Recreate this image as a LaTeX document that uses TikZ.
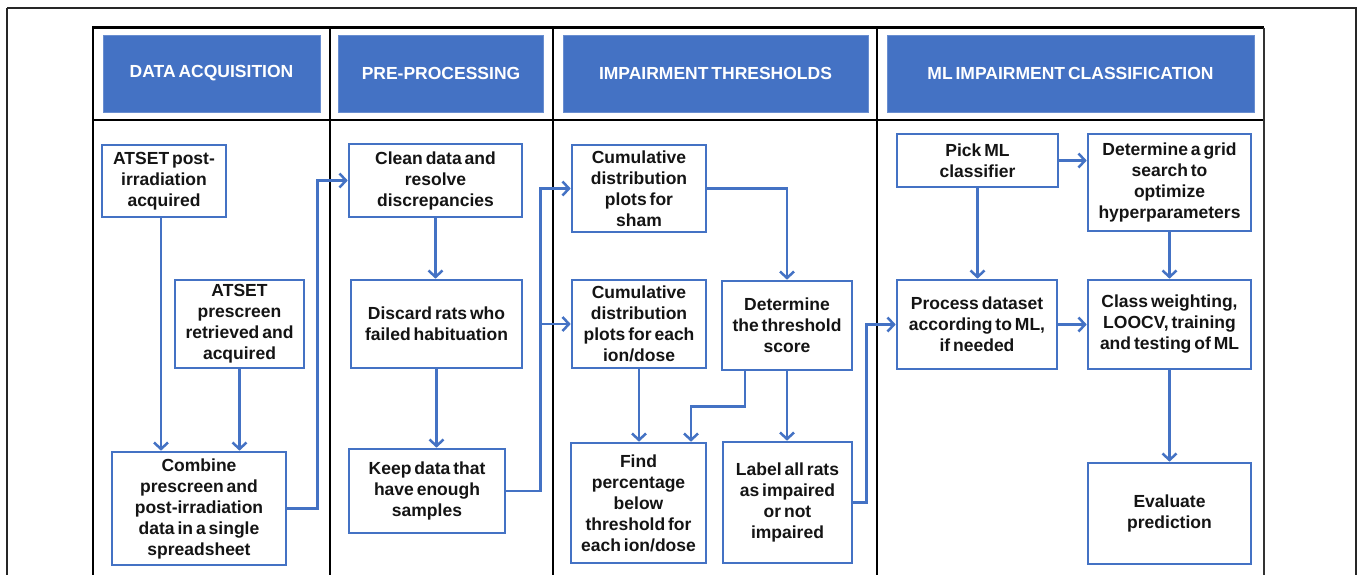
\documentclass[tikz,border=0pt]{standalone}
\usepackage{fontspec}
\setmainfont{Liberation Sans}[WordSpace=0.6]
\usetikzlibrary{arrows.meta,calc}
\definecolor{hblue}{HTML}{4472C4}
\definecolor{txt}{HTML}{141414}
\begin{document}
\begin{tikzpicture}[x=1pt,y=-1pt,
  box/.style={draw=hblue, line width=2.6pt, fill=white, inner sep=0pt, align=center,
    text=txt, font=\bfseries\fontsize{17.5}{21}\selectfont},
  hdr/.style={fill=hblue, draw=hblue!80!white, line width=0.8pt, inner sep=0pt,
    text=white, font=\bfseries\fontsize{17.5}{20}\selectfont},
  arr/.style={draw=hblue, line width=2.5pt, -{Straight Barb[length=6.5pt,width=14pt]}},
  tline/.style={draw=black, line width=2.6pt},
  frame/.style={draw=black!85, line width=1.3pt}]
\useasboundingbox (0,0) rectangle (1358,574);
\clip (0,0) rectangle (1358,574);
\fill[white] (0,0) rectangle (1358,574);
% outer frame
\draw[frame] (7,8) -- (1356,8) -- (1356,590) (7,8) -- (7,590);
% table
\draw[tline] (92,27.5) -- (1264,27.5);
\draw[tline] (92,120) -- (1264,120);
\draw[tline] (93,27.5) -- (93,590);
\draw[tline] (330,27.5) -- (330,590);
\draw[tline] (553,27.5) -- (553,590);
\draw[tline] (877,27.5) -- (877,590);
\draw[draw=black!80, line width=1.2pt] (1264,27.5) -- (1264,590);
% headers
\node[hdr, minimum width=217pt, minimum height=77pt] (h1) at (211.5,73.5) {DATA ACQUISITION};
\node[hdr, minimum width=205pt, minimum height=77pt] (h2) at (441,73.5) {PRE-PROCESSING};
\node[hdr, minimum width=305pt, minimum height=77pt] (h3) at (715.5,73.5) {IMPAIRMENT THRESHOLDS};
\node[hdr, minimum width=367pt, minimum height=77pt] (h4) at (1070.5,73.5) {ML IMPAIRMENT CLASSIFICATION};
% column 1
\node[box, minimum width=124pt, minimum height=72pt] (a1) at (164,181) {ATSET post-\\irradiation\\acquired};
\node[box, minimum width=129pt, minimum height=88pt] (a2) at (239.5,324) {ATSET\\prescreen\\retrieved and\\acquired};
\node[box, minimum width=174pt, minimum height=113pt] (a3) at (199,508.5) {Combine\\prescreen and\\post-irradiation\\data in a single\\spreadsheet};
% column 2
\node[box, minimum width=173pt, minimum height=73pt] (b1) at (435.5,180.5) {Clean data and\\resolve\\discrepancies};
\node[box, minimum width=171pt, minimum height=88pt] (b2) at (436.5,324) {Discard rats who\\failed habituation};
\node[box, minimum width=156pt, minimum height=84pt] (b3) at (427,491) {Keep data that\\have enough\\samples};
% column 3
\node[box, minimum width=134pt, minimum height=87pt] (c1) at (639,188.5) {Cumulative\\distribution\\plots for\\sham};
\node[box, minimum width=134pt, minimum height=88pt] (c2) at (639,324) {Cumulative\\distribution\\plots for each\\ion/dose};
\node[box, minimum width=130pt, minimum height=89pt] (c3) at (787,325.5) {Determine\\the threshold\\score};
\node[box, minimum width=135pt, minimum height=120pt] (c4) at (638.5,503) {Find\\percentage\\below\\threshold for\\each ion/dose};
\node[box, minimum width=129pt, minimum height=121pt] (c5) at (787.5,502.5) {Label all rats\\as impaired\\or not\\impaired};
% column 4
\node[box, minimum width=161pt, minimum height=53pt] (d1) at (977.5,160.5) {Pick ML\\classifier};
\node[box, minimum width=163pt, minimum height=97pt] (d2) at (1169.5,182.5) {Determine a grid\\search to\\optimize\\hyperparameters};
\node[box, minimum width=160pt, minimum height=89pt] (d3) at (977,324.5) {Process dataset\\according to ML,\\if needed};
\node[box, minimum width=163pt, minimum height=89pt] (d4) at (1169.5,324.5) {Class weighting,\\LOOCV, training\\and testing of ML};
\node[box, minimum width=163pt, minimum height=101pt] (d5) at (1169.5,513.5) {Evaluate\\prediction};
% connectors
\draw[arr] ($(a1.south)+(-3,0)$) -- ($(a1.south|-a3.north)+(-3,0)$);
\draw[arr] (a2.south) -- (a2.south|-a3.north);
\draw[arr] (a3.east) -- ++(30,0) |- (b1.west);
\draw[arr] (b1.south) -- (b1.south|-b2.north);
\draw[arr] (b2.south) -- (b2.south|-b3.north);
\coordinate (j1) at ($(b3.east)+(34,0)$);
\draw[arr] (b3.east) -- (j1) |- (c1.west);
\draw[arr] (j1) |- (c2.west);
\draw[arr] (c1.east) -| (c3.north);
\draw[arr] (c2.south) -- (c2.south|-c4.north);
\draw[arr] ($(c3.south)+(-42,0)$) -- ++(0,35) -| ($(c4.north)+(52.5,0)$);
\draw[arr] (c3.south) -- (c3.south|-c5.north);
\draw[arr] (c5.east) -- ++(13,0) |- (d3.west);
\draw[arr] (d1.east) -- (d1.east-|d2.west);
\draw[arr] (d1.south) -- (d1.south|-d3.north);
\draw[arr] (d2.south) -- (d2.south|-d4.north);
\draw[arr] (d3.east) -- (d4.west);
\draw[arr] (d4.south) -- (d5.north);
\end{tikzpicture}
\end{document}
